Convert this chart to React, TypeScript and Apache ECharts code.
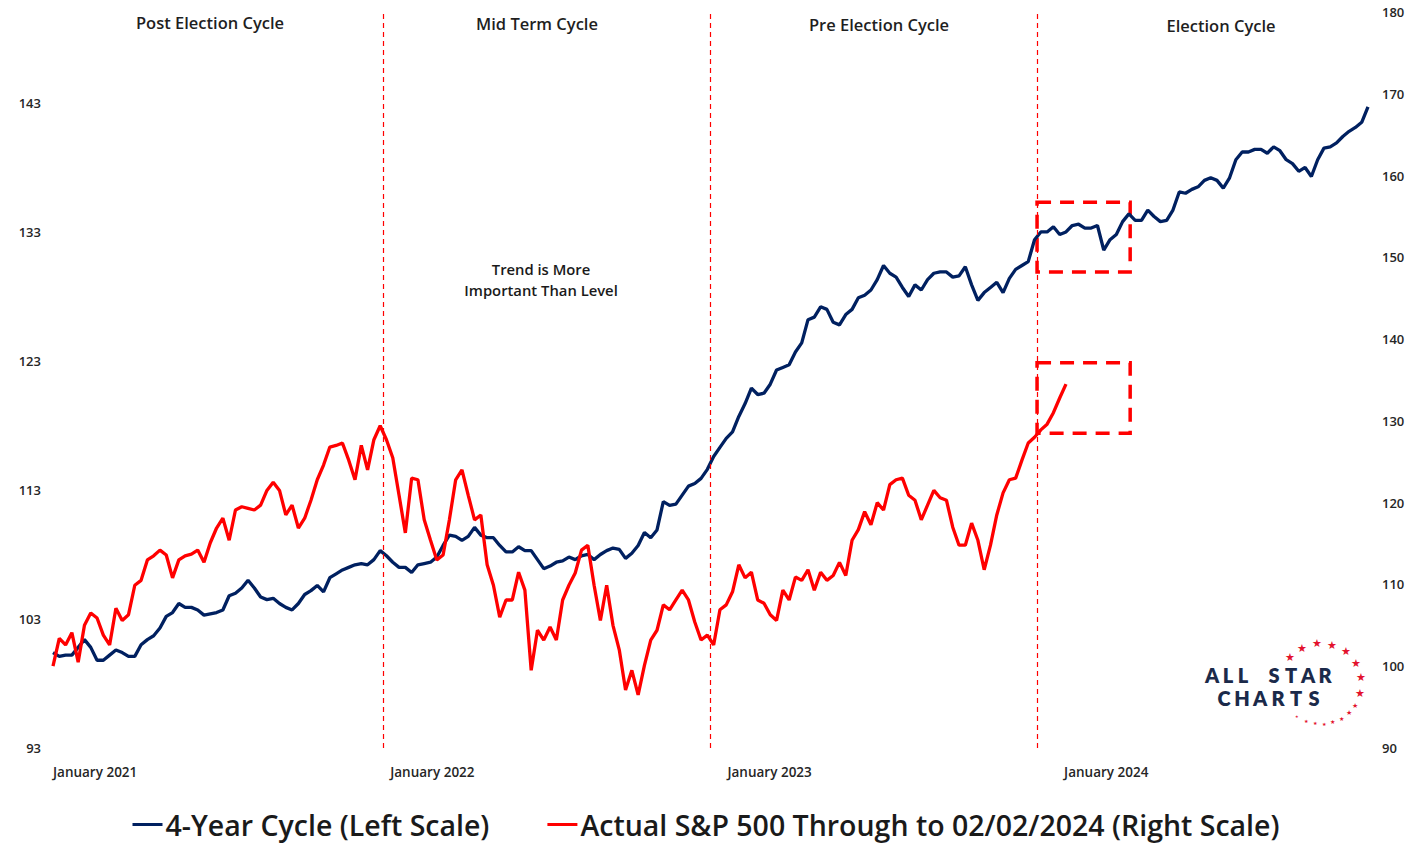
import React, { useEffect, useRef } from "react";
import * as echarts from "echarts";

// ---------- data ----------
const cycleTitles = ["Post Election Cycle", "Mid Term Cycle", "Pre Election Cycle", "Election Cycle"];
const yearLabels = ["January 2021", "January 2022", "January 2023", "January 2024"];
const yearLabelWeeks = [0, 53.6, 107.2, 160.7];
const yearStartWeeks = [52.5, 104.4, 156.4];
const leftTicks = [93, 103, 113, 123, 133, 143];
const seriesNames = ["4-Year Cycle (Left Scale)", "Actual S&P 500 Through to 02/02/2024 (Right Scale)"];

// weekly values, week 0 = first week of January 2021
const fourYearCycle = [
  100.4, 100.1, 100.2, 100.2, 100.8, 101.4, 100.8, 99.8, 99.8, 100.2,
  100.6, 100.4, 100.1, 100.1, 101.0, 101.4, 101.7, 102.3, 103.2, 103.5,
  104.2, 103.9, 103.9, 103.7, 103.3, 103.4, 103.5, 103.7, 104.8, 105.0,
  105.4, 106.0, 105.4, 104.7, 104.5, 104.6, 104.2, 103.9, 103.7, 104.2,
  104.9, 105.2, 105.6, 105.1, 106.2, 106.5, 106.8, 107.0, 107.2, 107.3,
  107.2, 107.6, 108.3, 107.9, 107.4, 107.0, 107.0, 106.6, 107.2, 107.3,
  107.4, 107.8, 108.7, 109.5, 109.4, 109.1, 109.4, 110.1, 109.5, 109.3,
  109.3, 108.7, 108.2, 108.2, 108.6, 108.3, 108.3, 107.6, 106.9, 107.1,
  107.4, 107.5, 107.8, 107.6, 107.9, 108.0, 107.6, 108.0, 108.3, 108.5,
  108.4, 107.7, 108.1, 108.7, 109.7, 109.3, 109.9, 112.1, 111.8, 111.9,
  112.6, 113.3, 113.5, 113.9, 114.6, 115.6, 116.3, 117.0, 117.5, 118.7,
  119.7, 120.9, 120.4, 120.5, 121.2, 122.3, 122.5, 122.7, 123.7, 124.4,
  126.2, 126.4, 127.2, 127.0, 126.0, 125.8, 126.6, 127.0, 127.9, 128.1,
  128.5, 129.3, 130.4, 129.8, 129.5, 128.7, 128.0, 128.9, 128.5, 129.3,
  129.8, 129.9, 129.9, 129.5, 129.6, 130.3, 128.9, 127.7, 128.3, 128.7,
  129.1, 128.3, 129.4, 130.1, 130.4, 130.7, 132.4, 133.0, 133.0, 133.4,
  132.8, 133.0, 133.5, 133.6, 133.3, 133.3, 133.5, 131.6, 132.4, 132.8,
  133.8, 134.4, 133.9, 133.9, 134.7, 134.2, 133.8, 133.9, 134.7, 136.1,
  136.0, 136.3, 136.5, 137.0, 137.2, 137.0, 136.4, 137.2, 138.6, 139.2,
  139.2, 139.4, 139.4, 139.1, 139.6, 139.3, 138.6, 138.3, 137.7, 138.0,
  137.3, 138.6, 139.5, 139.6, 139.9, 140.4, 140.8, 141.1, 141.5, 142.7,
];

const actualSpx = [
  100.0, 103.4, 102.6, 104.1, 100.5, 105.0, 106.5, 105.9, 103.8, 102.6,
  107.1, 105.6, 106.3, 109.9, 110.5, 113.0, 113.5, 114.2, 113.6, 110.8,
  113.0, 113.5, 113.7, 114.2, 112.7, 115.1, 116.9, 118.1, 115.4, 119.1,
  119.5, 119.3, 119.1, 119.7, 121.5, 122.5, 121.5, 118.5, 119.7, 116.9,
  118.1, 120.3, 122.8, 124.6, 126.8, 127.0, 127.3, 125.2, 122.8, 127.0,
  124.0, 127.7, 129.4, 127.7, 125.5, 120.9, 116.3, 123.0, 122.8, 117.9,
  115.4, 113.0, 113.6, 117.9, 122.8, 124.0, 120.9, 117.9, 118.5, 112.4,
  109.9, 106.0, 108.1, 108.1, 111.5, 109.3, 99.5, 104.4, 103.2, 104.8,
  103.2, 108.1, 109.9, 111.4, 114.2, 114.8, 109.9, 105.6, 109.9, 105.0,
  102.0, 97.1, 99.5, 96.5, 100.1, 103.2, 104.4, 107.5, 106.9, 108.1,
  109.3, 108.1, 105.4, 103.2, 103.8, 102.6, 106.9, 107.5, 109.1, 112.4,
  110.8, 111.5, 108.1, 107.7, 106.3, 105.6, 109.3, 108.1, 110.9, 110.5,
  111.8, 109.3, 111.5, 110.5, 111.1, 112.7, 111.1, 115.4, 116.7, 118.9,
  117.3, 120.0, 119.1, 122.2, 122.8, 123.0, 120.9, 120.3, 117.9, 119.7,
  121.5, 120.6, 120.3, 117.0, 114.8, 114.8, 117.5, 115.4, 111.8, 114.8,
  118.5, 121.2, 122.8, 123.0, 125.2, 127.3, 128.0, 128.9, 129.6, 131.0,
  132.8, 134.5,
];

// highlight boxes [week, value] corners
const cycleBox = [[156.4, 135.3], [171.2, 129.9]];
const spxBox = [[156.4, 137.1], [171.2, 128.5]];

const NAVY = "#002060";
const RED = "#ff0000";

export default function App() {
  const ref = useRef<HTMLDivElement>(null);

  useEffect(() => {
    if (!ref.current) return;
    const chart = echarts.init(ref.current, null, { renderer: "svg" });

    const graphics: any[] = [];
    const titlePos = [[210, 22], [537, 23], [879, 24], [1221, 25]];
    cycleTitles.forEach((t, i) => {
      graphics.push({
        type: "text",
        x: titlePos[i][0],
        y: titlePos[i][1],
        style: {
          text: t,
          fontSize: 16.5,
          fontWeight: 600,
          fontFamily: "Open Sans",
          fill: "#1f1f1f",
          align: "center",
          verticalAlign: "middle",
        },
      });
    });
    graphics.push({
      type: "text",
      x: 541,
      y: 279,
      style: {
        text: "Trend is More\nImportant Than Level",
        fontSize: 14.8,
        fontWeight: 600,
        fontFamily: "Open Sans",
        lineHeight: 21,
        fill: "#1a1a1a",
        align: "center",
        verticalAlign: "middle",
      },
    });

    // logo
    const logoLetters = [
      { t: "A", x: 1212, y: 675 }, { t: "L", x: 1228, y: 675 }, { t: "L", x: 1243, y: 675 },
      { t: "S", x: 1274, y: 675 }, { t: "T", x: 1291, y: 675 }, { t: "A", x: 1308, y: 675 }, { t: "R", x: 1325, y: 675 },
      { t: "C", x: 1224, y: 698 }, { t: "H", x: 1242, y: 698 }, { t: "A", x: 1260, y: 698 },
      { t: "R", x: 1278, y: 698 }, { t: "T", x: 1296, y: 698 }, { t: "S", x: 1314, y: 698 },
    ];
    logoLetters.forEach((l) => {
      graphics.push({
        type: "text",
        x: l.x,
        y: l.y,
        style: { text: l.t, fontSize: 20, fontWeight: 800, fontFamily: "Lato", fill: "#1b2a4a", align: "center", verticalAlign: "middle" },
      });
    });
    const cx = 1321, cy = 683, r = 40;
    for (let k = 0; k < 8; k++) {
      const a = ((-140 + k * 22) * Math.PI) / 180;
      graphics.push({
        type: "text",
        x: cx + r * Math.cos(a),
        y: cy + r * Math.sin(a),
        style: { text: "★", fontSize: 11, fill: "#e3122d", align: "center", verticalAlign: "middle" },
      });
    }
    for (let k = 0; k < 8; k++) {
      const a = ((34 + k * 13) * Math.PI) / 180;
      graphics.push({
        type: "text",
        x: cx + (r + 1) * Math.cos(a),
        y: cy + (r + 1) * Math.sin(a),
        style: { text: "★", fontSize: Math.max(4, 7 - k * 0.4), fill: "#e3122d", align: "center", verticalAlign: "middle" },
      });
    }

    const axisText = { fontWeight: 600, fontFamily: "Open Sans", color: "#262626" };

    chart.setOption({
      animation: false,
      backgroundColor: "#ffffff",
      grid: { left: 53, right: 44, top: 12, bottom: 101, containLabel: false },
      legend: {
        top: 805,
        left: "center",
        icon: "rect",
        itemWidth: 30,
        itemHeight: 3,
        itemGap: 58,
        textStyle: { fontSize: 28.5, fontWeight: 600, fontFamily: "Open Sans", color: "#1a1a1a", padding: [0, 0, 0, -2] },
        data: seriesNames,
      },
      xAxis: {
        type: "value",
        min: 0,
        max: 209,
        axisLine: { show: false },
        axisTick: { show: false },
        splitLine: { show: false },
        axisLabel: {
          ...axisText,
          fontSize: 13.5,
          customValues: yearLabelWeeks,
          align: "left",
          margin: 17,
          formatter: (v: number) => {
            const idx = yearLabelWeeks.findIndex((w) => Math.abs(w - v) < 0.01);
            return idx >= 0 ? yearLabels[idx] : "";
          },
        },
      },
      yAxis: [
        {
          type: "value",
          position: "left",
          min: 93,
          max: 150.05,
          axisLine: { show: false },
          axisTick: { show: false },
          splitLine: { show: false },
          axisLabel: { ...axisText, fontSize: 13, customValues: leftTicks, margin: 12 },
        },
        {
          type: "value",
          position: "right",
          min: 90,
          max: 180,
          interval: 10,
          axisLine: { show: false },
          axisTick: { show: false },
          splitLine: { show: false },
          axisLabel: { ...axisText, fontSize: 13, margin: 14 },
        },
      ],
      series: [
        {
          name: seriesNames[0],
          type: "line",
          yAxisIndex: 0,
          showSymbol: false,
          color: NAVY,
          lineStyle: { color: NAVY, width: 3.3 },
          data: fourYearCycle.map((v, i) => [i, v]),
          z: 3,
          markLine: {
            silent: true,
            symbol: ["none", "none"],
            label: { show: false },
            lineStyle: { color: RED, type: [5, 4], width: 1.2, opacity: 1 },
            emphasis: { disabled: true },
            data: yearStartWeeks.map((w) => ({ xAxis: w, lineStyle: { color: RED } })),
          },
          markArea: {
            silent: true,
            itemStyle: { color: "rgba(0,0,0,0)", borderColor: RED, borderWidth: 3.5, borderType: [14, 9] },
            data: [[{ coord: cycleBox[0] }, { coord: cycleBox[1] }]],
          },
        },
        {
          name: seriesNames[1],
          type: "line",
          yAxisIndex: 1,
          showSymbol: false,
          color: RED,
          lineStyle: { color: RED, width: 3.3 },
          data: actualSpx.map((v, i) => [i, v]),
          z: 4,
          markArea: {
            silent: true,
            itemStyle: { color: "rgba(0,0,0,0)", borderColor: RED, borderWidth: 3.5, borderType: [14, 9] },
            data: [[{ coord: spxBox[0] }, { coord: spxBox[1] }]],
          },
        },
      ],
      graphic: graphics,
    });

    return () => chart.dispose();
  }, []);

  return (
    <div
      ref={ref}
      style={{ position: "absolute", left: 0, top: 0, width: 1412, height: 849, background: "#fff" }}
    />
  );
}
